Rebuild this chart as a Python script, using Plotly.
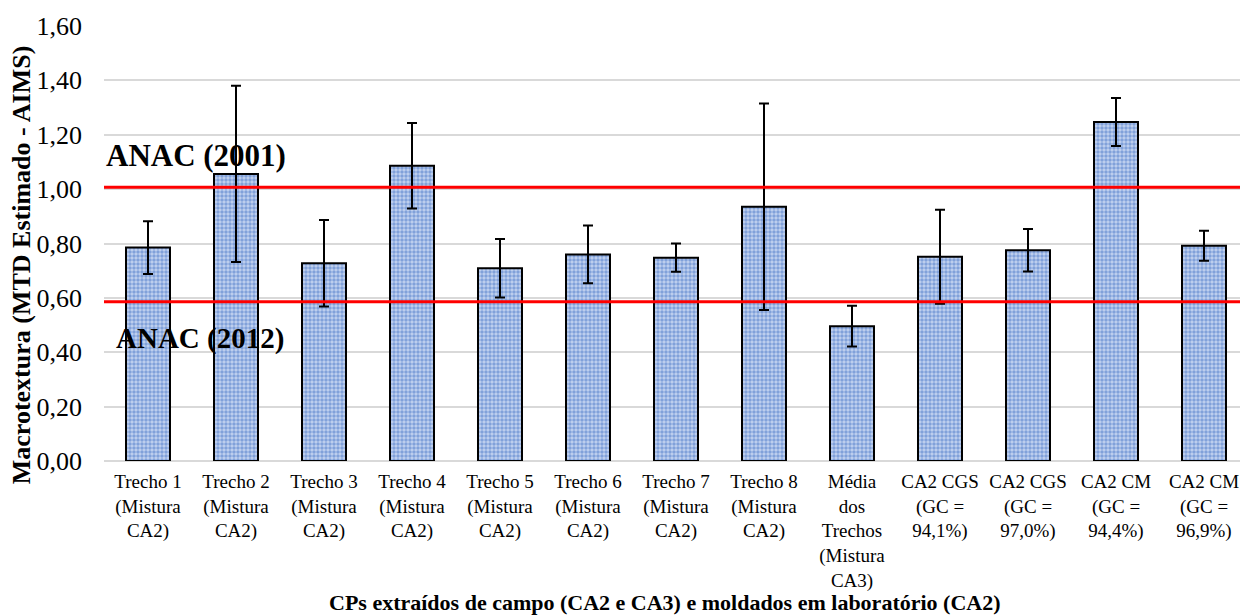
import plotly.graph_objects as go

categories = [
    "Trecho 1<br>(Mistura<br>CA2)",
    "Trecho 2<br>(Mistura<br>CA2)",
    "Trecho 3<br>(Mistura<br>CA2)",
    "Trecho 4<br>(Mistura<br>CA2)",
    "Trecho 5<br>(Mistura<br>CA2)",
    "Trecho 6<br>(Mistura<br>CA2)",
    "Trecho 7<br>(Mistura<br>CA2)",
    "Trecho 8<br>(Mistura<br>CA2)",
    "Média<br>dos<br>Trechos<br>(Mistura<br>CA3)",
    "CA2 CGS<br>(GC =<br>94,1%)",
    "CA2 CGS<br>(GC =<br>97,0%)",
    "CA2 CM<br>(GC =<br>94,4%)",
    "CA2 CM<br>(GC =<br>96,9%)",
]
means = [0.785, 1.056, 0.727, 1.086, 0.709, 0.760, 0.748, 0.935, 0.496, 0.751, 0.775, 1.247, 0.792]
errors = [0.097, 0.324, 0.159, 0.157, 0.108, 0.106, 0.052, 0.380, 0.075, 0.173, 0.078, 0.088, 0.055]

limit_values = [1.007, 0.586]
limit_labels = ["ANAC (2001)", "ANAC (2012)"]
label_y = [1.125, 0.452]

tick_vals = [0, 0.2, 0.4, 0.6, 0.8, 1.0, 1.2, 1.4, 1.6]
tick_text = ["0,00", "0,20", "0,40", "0,60", "0,80", "1,00", "1,20", "1,40", "1,60"]

FONT = "Liberation Serif, Times New Roman, serif"

fig = go.Figure()
fig.add_trace(go.Bar(
    x=list(range(len(categories))),
    y=means,
    marker=dict(
        color="#c3d3ef",
        line=dict(color="black", width=2),
        pattern=dict(shape=".", fgcolor="#4070c4", size=4, solidity=0.6),
    ),
    error_y=dict(type="data", array=errors, visible=True, color="black", thickness=2, width=5),
    showlegend=False,
))

for v in limit_values:
    fig.add_shape(type="line", xref="paper", x0=0, x1=1, yref="y", y0=v, y1=v,
                  line=dict(color="#ff0000", width=3), layer="above")

fig.add_annotation(text="<b>" + limit_labels[0] + "</b>", xref="paper", x=0, xanchor="left",
                   yref="y", y=label_y[0], yanchor="middle", showarrow=False,
                   font=dict(family=FONT, size=31, color="black"))
fig.add_annotation(text="<b>" + limit_labels[1] + "</b>", xref="paper", x=0.009, xanchor="left",
                   yref="y", y=label_y[1], yanchor="middle", showarrow=False,
                   font=dict(family=FONT, size=29, color="black"))

fig.add_annotation(text="<b>Macrotextura (MTD Estimado - AIMS)</b>", textangle=-90,
                   xref="paper", x=0, xshift=-83, xanchor="center",
                   yref="paper", y=0.45, yanchor="middle", showarrow=False,
                   font=dict(family=FONT, size=26, color="black"))
fig.add_annotation(text="<b>CPs extraídos de campo (CA2 e CA3) e moldados em laboratório (CA2)</b>",
                   xref="paper", x=0.49, xanchor="center",
                   yref="paper", y=0, yshift=-141, yanchor="middle", showarrow=False,
                   font=dict(family=FONT, size=22, color="black"))

# the page body has an 8px margin: size/margins compensate so the plot area lands where the reference has it
fig.update_layout(
    width=1240, height=608,
    margin=dict(l=96, r=0, t=18, b=155),
    paper_bgcolor="white", plot_bgcolor="white",
    bargap=0.5,
    font=dict(family=FONT, color="black"),
    xaxis=dict(
        tickmode="array", tickvals=list(range(len(categories))), ticktext=categories,
        range=[-0.5, len(categories) - 0.5],
        tickfont=dict(family=FONT, size=19, color="black"),
        showgrid=False, zeroline=False, showline=False,
        ticks="outside", ticklen=3, tickcolor="rgba(0,0,0,0)",
        tickangle=0, automargin=False,
    ),
    yaxis=dict(
        range=[0, 1.6], tickmode="array", tickvals=tick_vals, ticktext=tick_text,
        tickfont=dict(family=FONT, size=26, color="black"),
        showgrid=True, gridcolor="#d9d9d9", gridwidth=1.5,
        zeroline=True, zerolinecolor="#d9d9d9", zerolinewidth=1.5,
        showline=False, ticks="", ticklabelstandoff=21, automargin=False,
    ),
)

fig.write_html("out.html")
